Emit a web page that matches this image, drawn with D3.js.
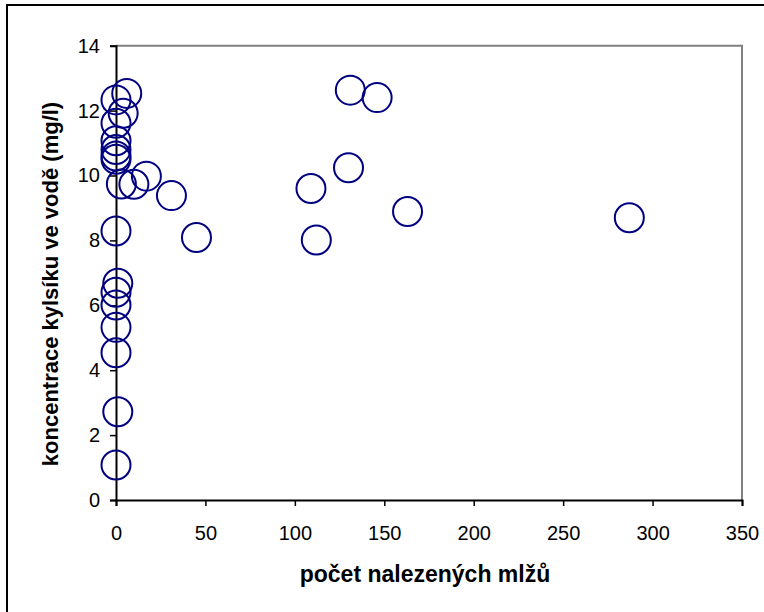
<!DOCTYPE html>
<html><head><meta charset="utf-8">
<script src="https://cdn.jsdelivr.net/npm/d3@7"></script>
<style>
body{margin:0;background:#fff;}
text{font-family:"Liberation Sans",Arial,sans-serif;}
</style></head>
<body><svg id="c" width="764" height="612"></svg>
<script>
const musselCounts = [6, 0, 4, 0, 0, 0, 0, 0, 3, 10, 17, 31, 45, 0, 1, 0, 0, 0, 0, 1, 0, 131, 146, 130, 109, 163, 112, 287];
const oxygen = [12.53, 12.33, 11.92, 11.61, 11.07, 10.8, 10.6, 10.5, 9.74, 9.73, 9.98, 9.38, 8.09, 8.29, 6.68, 6.40, 6.01, 5.32, 4.54, 2.72, 1.08, 12.63, 12.40, 10.24, 9.60, 8.89, 8.01, 8.70];
const xTicks = [0, 50, 100, 150, 200, 250, 300, 350];
const yTicks = [0, 2, 4, 6, 8, 10, 12, 14];
const xTitle = "počet nalezených mlžů";
const yTitle = "koncentrace kylsíku ve vodě (mg/l)";

const svg = d3.select("#c");
const L = 116, R = 742, T = 45.7, B = 500;
const x = d3.scaleLinear().domain([0, 350]).range([L, R]);
const y = d3.scaleLinear().domain([0, 14]).range([B, T]);

// outer frame (cropped right/bottom)
svg.append("rect").attr("x", 7).attr("y", 5).attr("width", 800).attr("height", 700)
  .attr("fill", "none").attr("stroke", "#000").attr("stroke-width", 2);

// plot area border top/right grey
svg.append("path").attr("d", `M${L},${T}H${R}V${B}`).attr("fill", "none")
  .attr("stroke", "#808080").attr("stroke-width", 2);

const xAxis = svg.append("g").attr("transform", `translate(0,${B})`)
  .call(d3.axisBottom(x).tickValues(xTicks).tickSize(6).tickPadding(20).tickFormat(d3.format("d")));
const yAxis = svg.append("g").attr("transform", `translate(${L},0)`)
  .call(d3.axisLeft(y).tickValues(yTicks).tickSize(6).tickPadding(10).tickFormat(d3.format("d")));
[xAxis, yAxis].forEach(g => {
  g.select(".domain").attr("stroke", "#000").attr("stroke-width", 2);
  g.selectAll(".tick line").attr("stroke", "#000").attr("stroke-width", 1.5);
  g.selectAll(".tick text").attr("fill", "#000").style("font-size", "20px")
    .style("font-family", '"Liberation Sans",Arial,sans-serif');
});

svg.append("g").selectAll("circle").data(musselCounts.map((v, i) => [v, oxygen[i]]))
  .join("circle")
  .attr("cx", d => x(d[0])).attr("cy", d => y(d[1])).attr("r", 14.5)
  .attr("fill", "none").attr("stroke", "#000080").attr("stroke-width", 2);

svg.append("text").attr("x", 425).attr("y", 582).attr("text-anchor", "middle")
  .style("font-size", "23px").style("font-weight", "bold").text(xTitle);
svg.append("text").attr("transform", "translate(58,284) rotate(-90)").attr("text-anchor", "middle")
  .style("font-size", "22px").style("font-weight", "bold").text(yTitle);
</script></body></html>
